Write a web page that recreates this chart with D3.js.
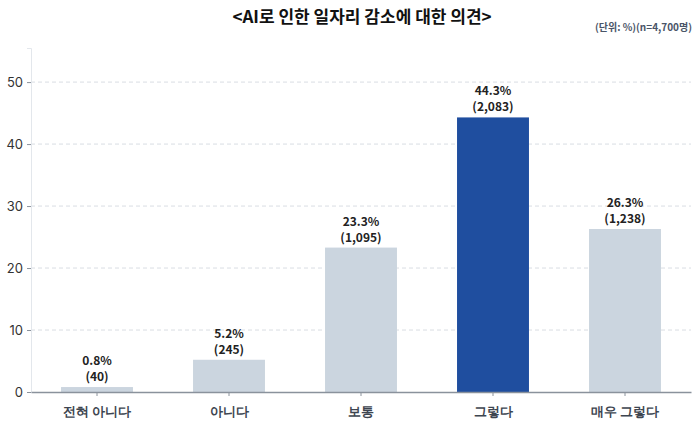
<!DOCTYPE html>
<html>
<head>
<meta charset="utf-8">
<script src="https://cdn.jsdelivr.net/npm/d3@7"></script>
<style>
  body { margin: 0; background: #fff; }
  svg { font-family: "Noto Sans CJK KR", "Noto Sans", sans-serif; }
</style>
</head>
<body>
<svg></svg>
<script>
const width = 700;
const height = 424;
const margin = { top: 48, right: 9, bottom: 32, left: 31 };

const categories = ['전혀 아니다', '아니다', '보통', '그렇다', '매우 그렇다'];
const percents = [0.8, 5.2, 23.3, 44.3, 26.3];
const counts = [40, 245, 1095, 2083, 1238];
const yTicks = [0, 10, 20, 30, 40, 50];
const highlight = '그렇다';

const data = categories.map((c, i) => ({ cat: c, pct: percents[i], n: counts[i] }));

const svg = d3.select('svg')
    .attr('width', width)
    .attr('height', height);

const xScale = d3.scaleBand()
    .domain(categories)
    .range([margin.left, width - margin.right])
    .paddingInner(0.455)
    .paddingOuter(0.2275);

const yScale = d3.scaleLinear()
    .domain([0, 55.5])
    .range([height - margin.bottom, margin.top]);

// gridlines
svg.append('g')
    .selectAll('line')
    .data(yTicks.slice(1))
    .enter()
    .append('line')
    .attr('x1', margin.left)
    .attr('x2', width - margin.right)
    .attr('y1', d => yScale(d))
    .attr('y2', d => yScale(d))
    .attr('stroke', '#d9dde3')
    .attr('stroke-dasharray', '4,3');

// y axis
const yAxis = svg.append('g')
    .attr('transform', `translate(${margin.left}, 0)`)
    .call(d3.axisLeft(yScale).tickValues(yTicks).tickSize(4).tickPadding(4));
yAxis.select('.domain').attr('stroke', '#e3e7ec');
yAxis.selectAll('.tick line').attr('stroke', '#8a929c');
yAxis.selectAll('.tick text')
    .attr('fill', '#333')
    .style('font-family', 'Inter, "Noto Sans", sans-serif')
    .style('font-size', '13px');

// bars
svg.selectAll('.bar')
    .data(data)
    .enter()
    .append('rect')
    .attr('class', 'bar')
    .attr('x', d => xScale(d.cat))
    .attr('width', xScale.bandwidth())
    .attr('y', d => yScale(d.pct))
    .attr('height', d => yScale(0) - yScale(d.pct))
    .attr('fill', d => d.cat === highlight ? '#1f4e9f' : '#cbd5df');

// x axis
const xAxis = svg.append('g')
    .attr('transform', `translate(0, ${yScale(0)})`)
    .call(d3.axisBottom(xScale).tickSize(4).tickPadding(6).tickSizeOuter(0));
xAxis.select('.domain').attr('stroke', '#8a929c').attr('stroke-width', 1.5);
xAxis.selectAll('.tick line').attr('stroke', '#8a929c');
xAxis.selectAll('.tick text')
    .attr('fill', '#3d4550')
    .style('font-size', '13px')
    .style('font-weight', 'bold')
    .attr('dy', '1.05em');

// value labels
const labels = svg.selectAll('.label')
    .data(data)
    .enter()
    .append('text')
    .attr('class', 'label')
    .attr('text-anchor', 'middle')
    .attr('fill', '#222')
    .style('font-size', '12px')
    .style('font-weight', 'bold');
labels.append('tspan')
    .attr('x', d => xScale(d.cat) + xScale.bandwidth() / 2)
    .attr('y', d => yScale(d.pct) - 22)
    .text(d => d.pct.toFixed(1) + '%');
labels.append('tspan')
    .attr('x', d => xScale(d.cat) + xScale.bandwidth() / 2)
    .attr('y', d => yScale(d.pct) - 6)
    .text(d => '(' + d3.format(',')(d.n) + ')');

// title
svg.append('text')
    .attr('x', 362)
    .attr('y', 23)
    .attr('text-anchor', 'middle')
    .attr('fill', '#111')
    .style('font-size', '17px')
    .style('font-weight', 'bold')
    .text('<AI로 인한 일자리 감소에 대한 의견>');

svg.append('text')
    .attr('x', width - 8)
    .attr('y', 31)
    .attr('text-anchor', 'end')
    .attr('fill', '#4a5568')
    .style('font-size', '10px')
    .style('font-weight', 'bold')
    .text('(단위: %)(n=4,700명)');
</script>
</body>
</html>
